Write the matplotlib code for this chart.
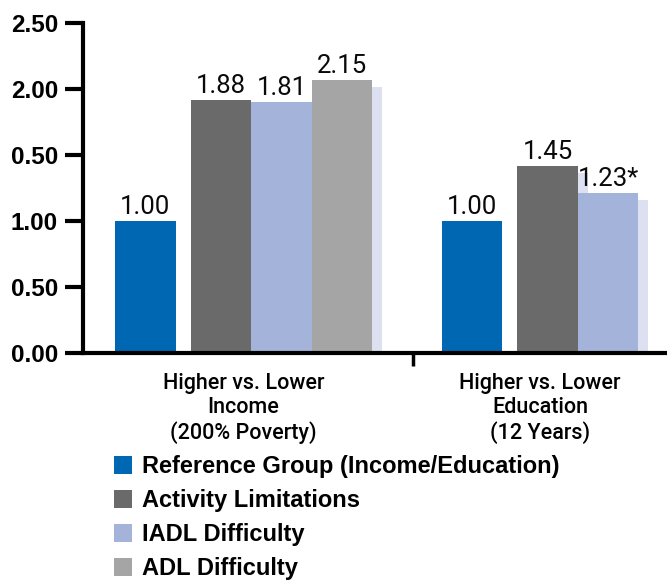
import matplotlib
matplotlib.use("Agg")
import matplotlib.pyplot as plt
import matplotlib.patheffects as pe
from matplotlib.patches import Patch

# ---------------- data ----------------
groups = ["Higher vs. Lower\nIncome\n(200% Poverty)",
          "Higher vs. Lower\nEducation\n(12 Years)"]
series = ["Reference Group (Income/Education)", "Activity Limitations",
          "IADL Difficulty", "ADL Difficulty"]
# bar heights as drawn in the picture
income_heights = [1.00, 1.92, 1.90, 2.07]
education_heights = [1.00, 1.42, 1.21]
# printed value labels
income_labels = ["1.00", "1.88", "1.81", "2.15"]
education_labels = ["1.00", "1.45", "1.23*"]
ytick_values = [0.0, 0.5, 1.0, 1.5, 2.0, 2.5]
ytick_labels = ["0.00", "0.50", "1.00", "0.50", "2.00", "2.50"]

# ---------------- style ----------------
colors = ["#0067B2", "#6A6A6A", "#A4B3DA", "#A5A5A5"]
shadow_color = "#DDE0F0"
W, H = 667, 583
fig = plt.figure(figsize=(W / 100, H / 100), dpi=100)
ax = fig.add_axes([83 / W, (H - 353) / H, 1 - 83 / W, (353 - 23) / H])

group_starts = [0.0, 5.4]
offsets = [0.0, 1.25, 2.25, 3.25]
bar_w = 1.0

all_heights = [income_heights, education_heights]
all_labels = [income_labels, education_labels]
shadow_fx = [pe.SimplePatchShadow(offset=(7.2, -5), shadow_rgbFace=shadow_color, alpha=1.0),
             pe.Normal()]

val_font = dict(family=["Roboto", "DejaVu Sans"], fontsize=18.5, color="#0A0A0A")
centers = []
for g, (start, heights, labels) in enumerate(zip(group_starts, all_heights, all_labels)):
    xs = []
    for i, (h, lab) in enumerate(zip(heights, labels)):
        x = start + offsets[i]
        bars = ax.bar(x, h, width=bar_w, align="edge", color=colors[i],
                      linewidth=0, zorder=2 + i)
        if i > 0:
            bars[0].set_path_effects(shadow_fx)
        ax.annotate(lab, (x + bar_w / 2, h), xytext=(0, 5), textcoords="offset points",
                    ha="center", va="baseline", zorder=10, **val_font)
        xs.append(x)
    centers.append((xs[0] + xs[-1] + bar_w) / 2)

ax.set_xlim(-0.529, 9.124)
ax.set_ylim(0, 2.5)

for s in ["top", "right"]:
    ax.spines[s].set_visible(False)
for s in ["left", "bottom"]:
    ax.spines[s].set_linewidth(3)
    ax.spines[s].set_color("black")
    ax.spines[s].set_zorder(20)

ax.set_yticks(ytick_values)
ax.set_yticklabels(ytick_labels, fontsize=17.5, fontweight="bold",
                   family=["Liberation Sans", "DejaVu Sans"])
ax.tick_params(axis="y", length=13, width=3, pad=5, direction="out")

# single tick between groups
ax.set_xticks([(group_starts[0] + offsets[-1] + bar_w + group_starts[1]) / 2 + 0.1])
ax.set_xticklabels([""])
ax.tick_params(axis="x", length=9, width=2.5, direction="out")

for c, name in zip(centers, groups):
    ax.text(c, -0.15, name, ha="center", va="top", fontsize=15.5, fontweight="medium",
            family=["Roboto", "DejaVu Sans"], linespacing=1.2, transform=ax.transData)

handles = [Patch(facecolor=c, edgecolor="none") for c in colors]
leg = fig.legend(handles, series, loc="upper left", bbox_to_anchor=(114 / W, 1 - 455 / H),
                 frameon=False, handlelength=0.78, handleheight=0.78, handletextpad=0.42,
                 labelspacing=0.47, borderaxespad=0, borderpad=0, handler_map=None,
                 prop=dict(family=["Liberation Sans", "DejaVu Sans"], weight="bold", size=17))

fig.savefig("out.png", dpi=100)
